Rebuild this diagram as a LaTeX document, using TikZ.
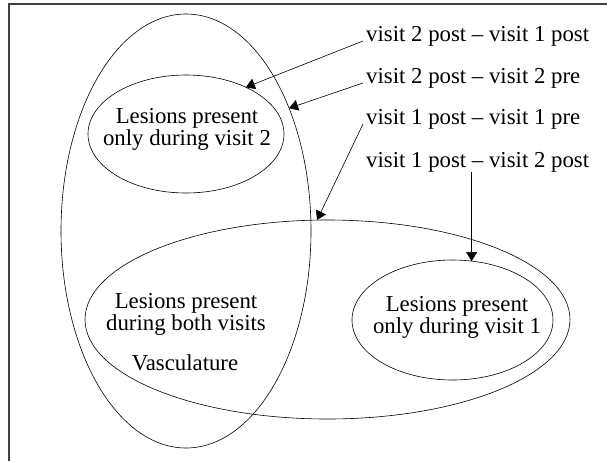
\documentclass[tikz,border=0pt]{standalone}
\usepackage{fontspec}
\setmainfont{Liberation Serif}
\usetikzlibrary{arrows.meta,shapes.geometric}

\begin{document}
\begin{tikzpicture}[
  x=1pt, y=-1pt,
  >={Triangle[length=9pt,width=11pt]},
  set/.style={draw, ellipse, inner sep=0pt, outer sep=0pt, line width=0.6pt},
  txt/.style={font=\fontsize{22.8}{20}\selectfont, align=center, inner sep=0pt},
  diff/.style={font=\fontsize{22.8}{20}\selectfont, inner xsep=3pt, inner ysep=0pt, anchor=base west},
  link/.style={->, line width=0.6pt}
]
\useasboundingbox (0,0) rectangle (607,461);
\draw[line width=1.2pt, black!75] (9,461) -- (9,4) -- (607,4);

% the sets
\node[set, minimum width=250pt, minimum height=434pt] (vasc) at (186,231) {};
\node[set, minimum width=196pt, minimum height=118pt] (only2) at (186,134) {};
\node[set, minimum width=485pt, minimum height=199pt] (both) at (327.5,319.5) {};
\node[set, minimum width=201pt, minimum height=120pt] (only1) at (452.5,320) {};

% base = last line
\node[txt, anchor=base] (only2txt) at (187,145) {Lesions present\\only during visit 2};
\node[txt, anchor=base] (bothtxt) at (186,330) {Lesions present\\during both visits};
\node[txt, anchor=base] (vasctxt) at (185,370) {Vasculature};
\node[txt, anchor=base] (only1txt) at (457,333) {Lesions present\\only during visit 1};

% the differences
\node[diff] (d21) at (363,41) {visit 2 post \textendash{} visit 1 post};
\node[diff] (d22) at (363,83) {visit 2 post \textendash{} visit 2 pre};
\node[diff] (d11) at (363,124) {visit 1 post \textendash{} visit 1 pre};
\node[diff] (d12) at (363,167) {visit 1 post \textendash{} visit 2 post};

\draw[link] (d21.base west) -- (only2.38);
\draw[link] (d22.base west) -- (vasc.50);
\draw[link] (d11.base west) -- (both.96);
\draw[link] (only1.72 |- d12.south) -- (only1.72);
\end{tikzpicture}
\end{document}
